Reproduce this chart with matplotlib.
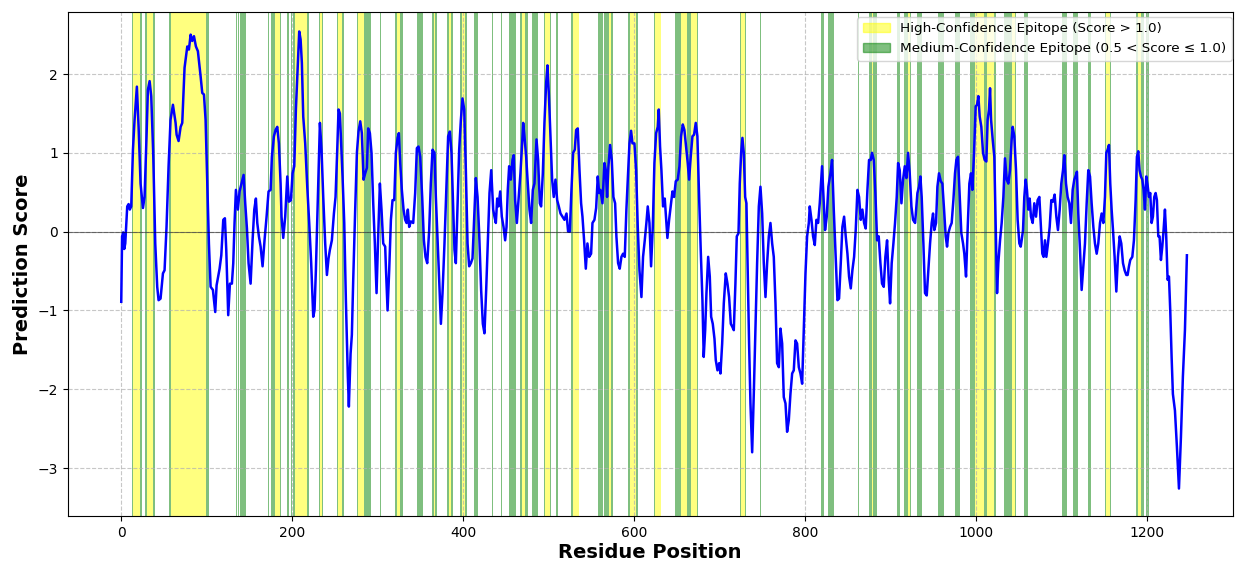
"""Epitope prediction profile along the protein sequence."""

import matplotlib

matplotlib.use("Agg")
import matplotlib.pyplot as plt
from matplotlib.patches import Patch

# smoothed prediction score (residue, score)
positions = [
    0, 1, 2.3, 3.5, 4.7, 7, 8.6, 10, 11.7, 13.7, 15.6, 18.3, 20.3, 22.6, 25.4, 27.3, 29.6, 31.2,
    33.2, 35.1, 37.4, 39.8, 42.1, 43.7, 46, 48.8, 50.7, 53, 55.4, 57.7, 60.5, 63.6, 64.8, 67.1,
    69.5, 71.4, 74.1, 77.3, 79.2, 81.2, 83.1, 85.1, 87.4, 89.7, 92.9, 94.8, 96.8, 98.7, 100.7,
    102.6, 104.6, 107.3, 110, 111.6, 113.5, 115.1, 117.1, 119.4, 121.3, 122.9, 125.2, 127.2,
    129.5, 131.1, 132.6, 134.2, 136.5, 138.5, 140.8, 143.2, 145.1, 147.1, 149, 151.4, 153.7,
    155.7, 157.6, 159.2, 161.1, 163.1, 165.4, 167.7, 170.1, 172.4, 174.8, 176.3, 178.7, 180.6,
    182.6, 184.5, 186.5, 187.6, 189.6, 191.9, 194.3, 196.2, 198.6, 200.5, 202.5, 204.4, 206.4,
    208.3, 209.9, 211.4, 213, 215.3, 217.7, 220, 222.3, 224.7, 226.2, 227.8, 230.1, 232.5, 234.4,
    236.4, 238.7, 240.7, 242.6, 244.2, 246.5, 248.9, 250.8, 252.8, 254.3, 255.9, 257.4, 259, 261,
    262.9, 265.2, 266.4, 268.4, 269.9, 271.5, 273.8, 275.8, 277.7, 279.7, 281.6, 283.6, 285.5,
    287.5, 289, 291, 292.9, 294.9, 296.8, 298.8, 300.7, 302.7, 304.6, 306.6, 308.9, 309.7, 311.7,
    313.6, 315.6, 317.5, 319.5, 321.4, 323.4, 324.9, 326.5, 328.4, 330.4, 332.3, 333.9, 335.4, 337,
    339, 341.7, 344, 346, 347.9, 349.9, 352.2, 354.2, 356.1, 358.1, 360.4, 362.3, 364.3, 366.6,
    368.2, 370.1, 372.1, 374.1, 376, 378.3, 380.7, 382.6, 384.6, 386.5, 388.5, 390, 391.6, 393.6,
    395.5, 397.5, 399.4, 401.4, 403.3, 405.3, 407.2, 409.2, 411.1, 413.1, 415, 417, 418.9, 421.2,
    423.2, 425.1, 427.1, 429, 431, 433, 435.3, 436.8, 438.4, 440, 441.5, 443.5, 445.4, 447.4,
    449.3, 450.9, 452.4, 454, 455.9, 457.9, 459.4, 461, 463, 464.9, 467.2, 469.2, 470.4, 471.9,
    473.9, 475.8, 477.8, 479.7, 481.7, 483.6, 486, 487.9, 489.9, 491.4, 493.4, 495.3, 497.3, 498.8,
    500.4, 502.3, 504.3, 506.2, 508.2, 510.2, 512.1, 514.1, 516.4, 518.7, 521.1, 523, 525, 526.9,
    528.9, 530.8, 532.4, 534.3, 536.3, 538.2, 539.8, 541.7, 543.7, 545.6, 547.6, 549.9, 551.5,
    553.8, 555.8, 557.7, 559.3, 560.8, 563.2, 565.5, 567.1, 568.6, 570.2, 572.1, 574.1, 576, 578,
    579.5, 581.5, 583.4, 585.4, 587.3, 589.3, 591.2, 593.2, 594.8, 596.7, 598.3, 600.6, 602.6,
    604.5, 606.5, 608.8, 610.7, 612.7, 614.6, 616.2, 618.2, 620.1, 622.1, 624, 626, 627.9, 629.1,
    630.6, 632.2, 634.1, 636.1, 638.1, 639.2, 641.2, 643.1, 645.1, 647, 649, 651.3, 653.3, 655.2,
    657.2, 659.1, 661.1, 663, 664.6, 666.5, 668.5, 670.4, 672.4, 674.3, 676.3, 678.2, 680.2, 681.7,
    683.4, 684.9, 686.9, 688.8, 690.4, 692.3, 694.3, 695.8, 697.8, 699.7, 701.3, 703.3, 705.2,
    707.5, 709.5, 711.4, 713.4, 715.3, 716.9, 718.8, 720.4, 722.4, 723.9, 725.5, 727, 728.6, 730.2,
    731.7, 733.3, 734.8, 736.4, 738.4, 740.3, 742.3, 744.2, 746.2, 748.1, 750.1, 752, 754, 755.9,
    757.9, 759.8, 761.8, 763.7, 765.7, 767.6, 769.6, 771.5, 773.5, 775.4, 777.4, 779.3, 781.3,
    783.2, 785.2, 787.1, 789.1, 791, 793, 794.9, 796.9, 798.8, 800.8, 802.7, 804.7, 805.8, 807.8,
    809.7, 811.7, 813.6, 815.6, 817.5, 820.2, 822.2, 823.7, 825.7, 827.6, 830, 831.9, 833.9, 835.8,
    838.2, 840.1, 842.1, 844, 846, 847.9, 849.9, 851.8, 853.8, 855.7, 857.7, 859.6, 861.6, 863.5,
    865.5, 867.4, 869.4, 871.3, 873.3, 875.2, 877.2, 878.7, 880.7, 882.6, 884.6, 886.5, 888.5,
    890.4, 892.4, 894.3, 896.3, 898.2, 899.8, 901.7, 903.7, 905.6, 907.6, 909.2, 911.1, 913.1, 915,
    917, 918.9, 920.9, 922.8, 924.8, 926.7, 929.1, 931.8, 933.7, 935.3, 936.8, 938.8, 940.7, 942.7,
    944.6, 946.6, 948.5, 950.1, 951.6, 953.6, 955.2, 957.1, 959.1, 961, 963, 964.9, 966.5, 968, 970,
    971.9, 973.9, 975.8, 977.4, 979.3, 981.3, 983.2, 985.2, 986.7, 988.7, 990.7, 992.6, 994.5,
    996.1, 998.1, 1000, 1001.6, 1003.1, 1004.7, 1006.6, 1008.6, 1010.5, 1012.5, 1014, 1015.6,
    1016.8, 1018, 1019.9, 1021.8, 1023.4, 1025, 1026.5, 1028.5, 1030.4, 1032.4, 1034.3, 1036.3,
    1038.2, 1040.2, 1042.1, 1043.3, 1045.2, 1047.2, 1049.1, 1051.1, 1052.7, 1053.8, 1055.4, 1056.9,
    1058.5, 1060, 1061.6, 1063.2, 1064.7, 1066.7, 1068.6, 1070.6, 1072.5, 1074.5, 1076.4, 1078,
    1079.5, 1081.1, 1082.7, 1084.6, 1086.6, 1088.5, 1090.5, 1092.4, 1094.4, 1096.3, 1098.3, 1100.2,
    1102.2, 1103.7, 1105.7, 1107.6, 1109.6, 1111.5, 1113.5, 1115.4, 1117.4, 1118.5, 1120.1, 1122.1,
    1124, 1126, 1127.9, 1129.9, 1131.8, 1133.8, 1135.7, 1137.7, 1139.6, 1141.6, 1143.5, 1145.5,
    1147.4, 1149.4, 1151.3, 1152.9, 1154.4, 1156, 1157.5, 1159.1, 1160.7, 1162.6, 1164.6, 1166.5,
    1168.5, 1170.4, 1172.4, 1174.3, 1176.3, 1177.8, 1179.4, 1180.9, 1183.3, 1185.2, 1187.2, 1188.7,
    1190.3, 1191.8, 1193.4, 1195, 1196.5, 1198.1, 1199.6, 1201.2, 1202.8, 1204.3, 1205.9, 1207.4,
    1209, 1210.6, 1212.1, 1213.7, 1215.2, 1216.8, 1218.4, 1219.9, 1221.5, 1223, 1224.6, 1226.2,
    1227.7, 1229.3, 1230.8, 1233.2, 1235.5, 1237.9, 1240.2, 1242.5, 1244.9, 1247.2,
]
scores = [
    -0.89, -0.06, -0.01, -0.22, -0.15, 0.32, 0.35, 0.28, 0.32, 1.04, 1.42, 1.84, 1.33, 0.61, 0.30, 0.44, 1.21, 1.80,
    1.91, 1.72, 1.0, -0.15, -0.70, -0.87, -0.85, -0.53, -0.49, 0.06, 0.83, 1.42, 1.61, 1.38, 1.23, 1.15,
    1.33, 1.38, 2.08, 2.35, 2.31, 2.50, 2.42, 2.48, 2.35, 2.29, 1.97, 1.76, 1.74, 1.42, 0.61,
    -0.15, -0.70, -0.74, -1.02, -0.68, -0.57, -0.47, -0.30, 0.15, 0.17, -0.23, -1.06, -0.66,
    -0.66, -0.40, 0.11, 0.53, 0.28, 0.51, 0.61, 0.72, 0.36, 0.04, -0.40, -0.66, -0.11,
    0.28, 0.42, 0.11, -0.06, -0.19, -0.44, -0.11, 0.19, 0.51, 0.53, 0.95, 1.21, 1.29,
    1.33, 1.12, 0.61, 0.19, -0.08, 0.19, 0.70, 0.38, 0.40, 0.74, 0.83, 1.55, 2.06,
    2.54, 2.44, 2.14, 1.46, 1.12, 0.57, 0.11, -0.40, -1.08, -1.0, -0.49, 0.44, 1.38, 1.04,
    0.44, -0.15, -0.55, -0.34, -0.23, -0.11, 0.23, 0.44, 1.04, 1.55, 1.50, 1.12, 0.70, 0.11,
    -0.87, -1.84, -2.22, -1.55, -1.31, -0.61, 0.28, 1.0, 1.27, 1.40, 1.25, 0.66, 0.74,
    0.81, 1.31, 1.25, 1.0, 0.36, -0.15, -0.78, -0.06, 0.61, 0.28, -0.15, -0.19, -0.44, -1.0,
    -0.49, 0.15, 0.40, 0.40, 1.0, 1.19, 1.25, 0.87, 0.53, 0.28, 0.15, 0.11, 0.28, 0.06,
    0.13, 0.11, 0.49, 1.06, 1.08, 0.95, 0.44, -0.11, -0.32, -0.40, 0.02, 0.61, 1.04, 1.0,
    0.44, -0.06, -0.61, -1.17, -0.78, -0.15, 0.61, 1.21, 1.27, 1.0, 0.28, -0.23, -0.40, 0.36,
    1.04, 1.42, 1.69, 1.55, 0.78, -0.15, -0.44, -0.40, -0.34, 0.19, 0.68, 0.44, -0.02, -0.74,
    -1.17, -1.29, -0.74, -0.15, 0.49, 0.78, 0.28, 0.19, 0.11, 0.42, 0.32, 0.51, 0.19, 0.06,
    -0.11, 0.06, 0.53, 0.83, 0.66, 0.91, 0.97, 0.40, 0.11, 0.40, 0.74, 1.12, 1.38, 1.21,
    0.95, 0.61, 0.28, 0.11, 0.53, 0.61, 1.17, 0.91, 0.36, 0.32, 0.74, 1.38, 1.89, 2.11,
    1.76, 1.21, 0.66, 0.44, 0.66, 0.40, 0.32, 0.23, 0.19, 0.15, 0.23, 0.0, 0.0, 0.53,
    1.0, 1.04, 1.29, 1.31, 0.78, 0.36, 0.19, -0.11, -0.47, -0.15, -0.32, -0.28, 0.11,
    0.15, 0.30, 0.70, 0.49, 0.53, 0.36, 0.87, 0.78, 0.44, 0.83, 1.10, 0.91, 0.44, 0.36,
    -0.06, -0.40, -0.47, -0.32, -0.28, -0.32, 0.28, 0.74, 1.12, 1.28, 1.12, 1.12, 0.78,
    0.06, -0.49, -0.83, -0.32, -0.11, 0.11, 0.32, 0.11, -0.44, 0.06, 0.87, 1.25, 1.33, 1.55,
    1.08, 0.78, 0.32, 0.42, 0.11, -0.08, 0.15, 0.32, 0.51, 0.44, 0.64, 0.66, 0.83, 1.21,
    1.36, 1.29, 1.08, 0.87, 0.66, 0.95, 1.21, 1.23, 1.38, 1.21, 0.44, -0.23, -0.87, -1.59,
    -1.25, -0.78, -0.32, -0.57, -1.08, -1.17, -1.36, -1.63, -1.76, -1.67, -1.80, -1.42, -0.91,
    -0.53, -0.66, -0.83, -1.17, -1.21, -1.25, -0.66, -0.06, -0.02, 0.61, 1.0, 1.19, 1.0, 0.44,
    0.36, -0.57, -1.42, -2.18, -2.80, -2.06, -1.21, -0.40, 0.32, 0.57, 0.23, -0.40, -0.83, -0.40,
    -0.06, 0.11, -0.15, -0.32, -0.91, -1.67, -1.72, -1.23, -1.42, -2.10, -2.18, -2.54, -2.39,
    -2.06, -1.80, -1.76, -1.38, -1.42, -1.72, -1.80, -1.93, -1.25, -0.53, -0.06, 0.11, 0.32, 0.15,
    -0.06, -0.17, 0.15, 0.11, 0.36, 0.83, 0.36, 0.02, 0.19, 0.57, 0.74, 0.91, 0.28, -0.23,
    -0.87, -0.85, -0.40, 0.06, 0.19, -0.06, -0.28, -0.57, -0.72, -0.49, -0.32, 0.02, 0.53, 0.44,
    0.15, 0.28, 0.11, 0.04, 0.53, 0.91, 0.91, 1.0, 0.91, 0.49, -0.11, -0.06, -0.40,
    -0.66, -0.70, -0.32, -0.11, -0.61, -0.91, -0.40, -0.15, 0.11, 0.44, 0.87, 0.78, 0.36, 0.66,
    0.83, 0.68, 1.0, 0.74, 0.32, 0.15, 0.11, 0.49, 0.57, 0.70, 0.44, -0.15, -0.78, -0.81,
    -0.49, -0.15, 0.11, 0.23, 0.02, 0.11, 0.57, 0.74, 0.64, 0.61, 0.28, -0.06, -0.19, -0.02, 0.06,
    0.11, 0.40, 0.74, 0.91, 0.95, 0.44, -0.02, -0.15, -0.28, -0.57, 0.06, 0.61, 0.74,
    0.53, 1.0, 1.59, 1.61, 1.72, 1.46, 1.33, 1.0, 0.91, 0.89, 1.42, 1.55,
    1.82, 1.42, 1.17, 0.95, 0.06, -0.78, -0.40, -0.11, 0.11, 0.44, 0.93, 0.66,
    0.61, 0.78, 1.17, 1.33, 1.21, 0.78, 0.15, -0.15, -0.19, -0.11, 0.02, 0.44,
    0.66, 0.53, 0.28, 0.42, 0.19, 0.11, 0.36, 0.19, 0.40, 0.44, 0.06, -0.28,
    -0.32, -0.11, -0.32, -0.15, 0.06, 0.40, 0.38, 0.47, 0.19, 0.02, 0.28, 0.61,
    0.78, 0.97, 0.61, 0.44, 0.36, 0.11, 0.53, 0.66, 0.72, 0.76, 0.23, -0.23,
    -0.74, -0.44, -0.15, 0.36, 0.78, 0.70, 0.36, 0.06, -0.15, -0.28, -0.15, 0.11,
    0.23, 0.11, 0.44, 1.0, 1.04, 1.10, 0.61, 0.28, 0.02, -0.32, -0.76, -0.32,
    -0.06, -0.15, -0.40, -0.49, -0.55, -0.55, -0.44, -0.36, -0.32, -0.11, 0.40, 0.95,
    1.02, 0.78, 0.70, 0.66, 0.53, 0.28, 0.70, 0.59, 0.44, 0.49, 0.11, 0.19,
    0.44, 0.49, 0.40, -0.06, -0.06, -0.36, -0.19, 0.02, 0.28, -0.06, -0.61, -0.57,
    -1.0, -1.59, -2.06, -2.27, -2.73, -3.26, -2.61, -1.84, -1.25, -0.30,
]

# residue ranges flagged as epitopes
high_spans = [
    (14.0, 21.8), (29.6, 36.7), (57.7, 99.5), (179.8, 185.7), (203.6, 216.9), (232.9, 235.2),
    (254.0, 258.6), (277.3, 284.0), (322.6, 326.1), (365.5, 367.0), (383.8, 386.1), (398.6, 402.5),
    (469.6, 472.7), (495.5, 502.0), (529.2, 535.9), (570.6, 573.3), (595.9, 602.5), (624.8, 631.8),
    (655.2, 662.2), (666.9, 674.0), (725.5, 730.5), (878.5, 880.0), (920.9, 922.8), (999.2, 1009.8),
    (1013.7, 1021.8), (1042.1, 1045.6), (1152.9, 1156.8), (1189.5, 1193.4),
]
medium_spans = [
    (12.1, 14.0), (21.8, 24.2), (27.7, 29.6), (36.7, 39.0), (55.4, 57.7), (99.5, 102.2),
    (134.5, 135.5), (137.0, 138.0), (139.5, 145.5), (172.0, 173.0), (174.8, 179.8), (185.7, 186.9),
    (193.5, 196.2), (199.0, 200.0), (201.3, 203.6), (216.9, 219.2), (231.3, 232.9), (235.2, 236.4),
    (252.0, 254.0), (258.6, 260.6), (275.4, 277.3), (284.0, 292.0), (302.7, 304.0), (320.2, 322.6),
    (326.1, 329.2), (345.6, 353.0), (363.5, 365.5), (367.0, 369.0), (381.0, 383.8), (386.1, 388.5),
    (396.3, 398.6), (402.5, 404.9), (413.4, 417.3), (434.0, 435.0), (445.0, 446.0), (454.0, 461.8),
    (466.5, 469.6), (472.7, 475.8), (480.5, 488.3), (494.5, 495.5), (502.0, 503.1), (508.6, 511.7),
    (526.5, 529.2), (557.7, 563.6), (565.5, 570.6), (573.3, 575.6), (593.6, 595.9), (602.5, 605.3),
    (623.2, 624.8), (648.6, 655.2), (662.2, 666.9), (674.0, 675.5), (724.7, 725.5), (730.5, 731.3),
    (748.0, 749.0), (818.7, 822.2), (827.3, 833.9), (862.0, 863.0), (875.2, 878.5), (880.0, 885.0),
    (907.6, 911.9), (915.8, 920.9), (922.8, 924.8), (931.8, 936.8), (955.5, 963.0), (975.4, 982.0),
    (993.0, 999.2), (1009.8, 1013.7), (1021.8, 1023.4), (1033.2, 1042.1), (1045.6, 1047.6),
    (1056.9, 1061.6), (1100.6, 1106.8), (1114.3, 1120.1), (1131.0, 1134.5), (1151.3, 1152.9),
    (1156.8, 1158.3), (1187.5, 1189.5), (1193.4, 1197.3), (1199.3, 1203.2),
]

HIGH_LABEL = "High-Confidence Epitope (Score > 1.0)"
MED_LABEL = "Medium-Confidence Epitope (0.5 < Score \u2264 1.0)"


def main() -> None:
    fig, ax = plt.subplots(figsize=(12.35, 5.61), dpi=100)
    fig.subplots_adjust(left=0.055, right=0.998, top=0.979, bottom=0.080)

    for start, end in medium_spans:
        ax.axvspan(start, end, color="green", alpha=0.5, lw=0)
    for start, end in high_spans:
        ax.axvspan(start, end, color="yellow", alpha=0.5, lw=0)

    ax.plot(positions, scores, color="blue", lw=1.8)
    ax.axhline(0, color="black", lw=0.8, alpha=0.5)

    ax.set_xlim(-62.4, 1300.6)
    ax.set_ylim(-3.61, 2.79)
    ax.grid(True, linestyle="--", alpha=0.7)
    ax.set_xlabel("Residue Position", fontsize=14, fontweight="bold", labelpad=2)
    ax.set_ylabel("Prediction Score", fontsize=14, fontweight="bold")

    handles = [Patch(color="yellow", alpha=0.5, label=HIGH_LABEL),
               Patch(color="green", alpha=0.5, label=MED_LABEL)]
    ax.legend(handles=handles, loc="upper right", fontsize=9.7, borderaxespad=0,
              bbox_to_anchor=(1232 / 1235, 1 - 17 / 561), bbox_transform=fig.transFigure)

    fig.savefig("out.png", dpi=100)
    plt.close(fig)


if __name__ == "__main__":
    main()
